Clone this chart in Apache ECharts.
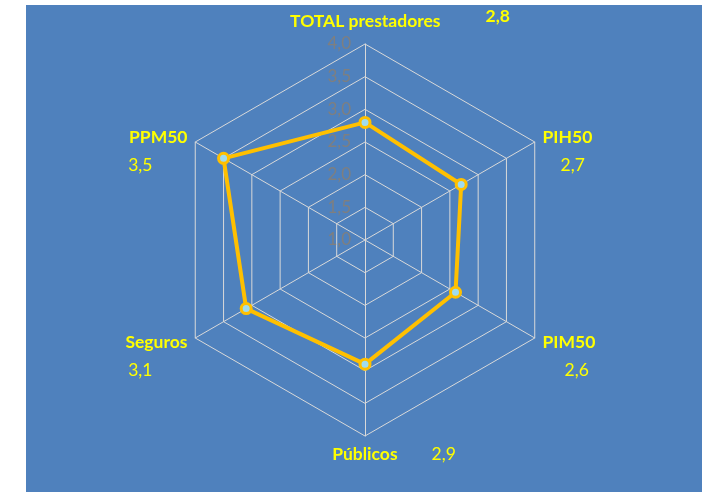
<!DOCTYPE html>
<html>
<head>
<meta charset="utf-8">
<script src="https://cdn.jsdelivr.net/npm/echarts@6/dist/echarts.min.js"></script>
<style>
  html, body { margin: 0; padding: 0; background: #ffffff; }
  #chart { position: absolute; left: 26px; top: 5px; width: 676px; height: 487px; background: #4f81bd; }
</style>
</head>
<body>
<div id="chart"></div>
<script>
// chart data (clockwise from the top, as in the original)
var categories = ['TOTAL prestadores', 'PIH50', 'PIM50', 'Públicos', 'Seguros', 'PPM50'];
var values = [2.8, 2.7, 2.6, 2.9, 3.1, 3.5];
var valueLabels = ['2,8', '2,7', '2,6', '2,9', '3,1', '3,5'];
var scaleMin = 1.0;
var scaleMax = 4.0;
var scaleStep = 0.5;

// which rich style each axis name uses (where the value sits)
var labelKind = ['top', 'right', 'right2', 'bottom', 'left', 'left'];

var chartDom = document.getElementById('chart');
var chart = echarts.init(chartDom);

// echarts lays radar axes out counter-clockwise, so walk the list backwards
var order = [0, 5, 4, 3, 2, 1];

var indicators = order.map(function (i) {
    return { name: categories[i], min: scaleMin, max: scaleMax };
});

var center = [339, 235];
var radius = 196;

var nameStyle = { color: '#ffff00', fontWeight: 'bold', fontSize: 17.5, fontFamily: 'Lato' };
var valStyle = { color: '#ffff00', fontSize: 17.5, fontFamily: 'Lato' };

var option = {
    animation: false,
    // polar only carries the tick labels of the top axis
    polar: { center: center, radius: radius },
    angleAxis: {
        startAngle: 90,
        min: 0,
        max: 360,
        show: false
    },
    radiusAxis: {
        min: scaleMin,
        max: scaleMax,
        interval: scaleStep,
        axisLine: { show: false },
        axisTick: { show: false },
        splitLine: { show: false },
        axisLabel: {
            color: '#7f7f7f',
            fontSize: 17,
            fontFamily: 'Lato',
            margin: 14,
            formatter: function (v) {
                return v.toFixed(1).replace('.', ',');
            }
        }
    },
    radar: {
        center: center,
        radius: radius,
        startAngle: 90,
        splitNumber: 6,
        shape: 'polygon',
        nameGap: 9,
        axisName: {
            fontFamily: 'Lato',
            formatter: function (name) {
                var i = categories.indexOf(name);
                var v = valueLabels[i];
                var k = labelKind[i];
                if (k === 'top') {
                    return '{nt|' + name + '}{vt|' + v + '}';
                }
                if (k === 'bottom') {
                    return '{nb|' + name + '}{vb|' + v + '}';
                }
                if (k === 'right') {
                    return '{e| }\n{n|' + name + '}\n{vr|' + v + '}';
                }
                if (k === 'right2') {
                    return '{e| }\n{n|' + name + '}\n{vr2|' + v + '}';
                }
                return '{e| }\n{n|' + name + '}\n{vl|' + v + '}';
            },
            rich: {
                e: { fontSize: 16, lineHeight: 28 },
                n: Object.assign({ lineHeight: 28 }, nameStyle),
                nt: Object.assign({ padding: [0, 0, 0, 70] }, nameStyle),
                vt: Object.assign({ padding: [0, 0, 10, 45] }, nameStyle),
                nb: Object.assign({ padding: [0, 0, 0, 58] }, nameStyle),
                vb: Object.assign({ padding: [0, 0, 0, 34] }, valStyle),
                vr: Object.assign({ lineHeight: 28, padding: [0, 0, 0, 18] }, valStyle),
                vr2: Object.assign({ lineHeight: 28, padding: [0, 0, 0, 22] }, valStyle),
                vl: Object.assign({ lineHeight: 28, padding: [0, 35, 0, 0] }, valStyle)
            }
        },
        indicator: indicators,
        axisLine: { lineStyle: { color: '#d9d9d9', width: 1 } },
        splitLine: { lineStyle: { color: '#d9d9d9', width: 1 } },
        splitArea: { show: false },
        axisTick: { show: false },
        axisLabel: { show: false }
    },
    series: [
        {
            type: 'radar',
            symbol: 'circle',
            symbolSize: 10,
            lineStyle: { color: '#ffc000', width: 4 },
            itemStyle: { color: '#9fdcf0', borderColor: '#ffc000', borderWidth: 3 },
            data: [
                { value: order.map(function (i) { return values[i]; }), name: 'Promedio' }
            ]
        }
    ]
};

option && chart.setOption(option);
</script>
</body>
</html>
